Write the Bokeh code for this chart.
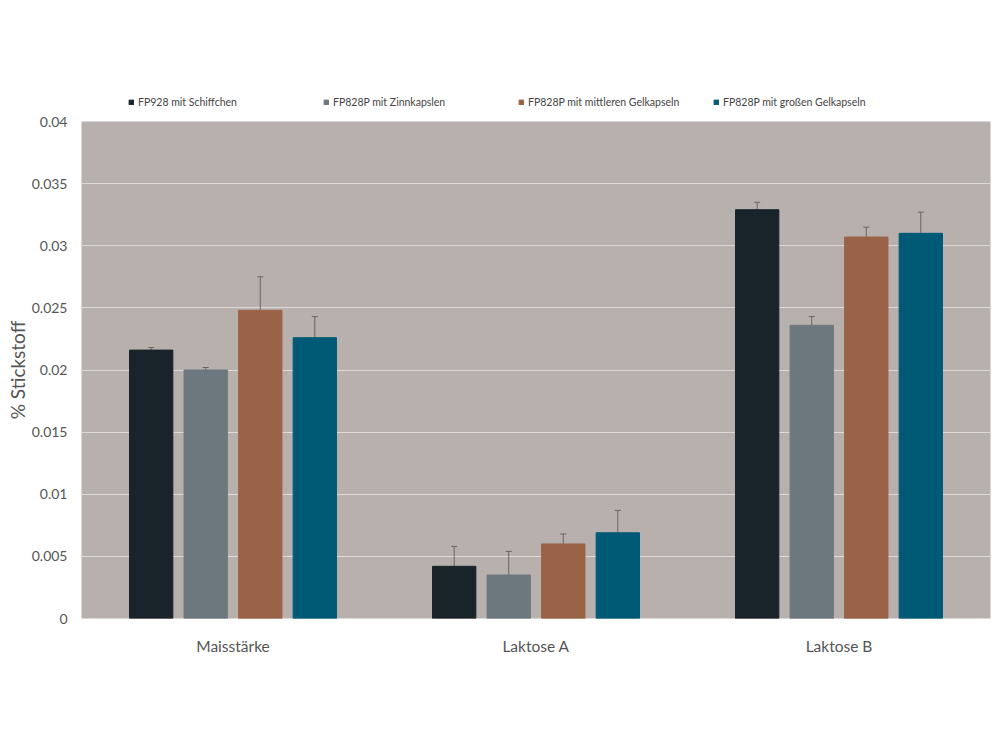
from bokeh.plotting import figure
from bokeh.layouts import column
from bokeh.models import (ColumnDataSource, FactorRange, FixedTicker, CustomJSTickFormatter,
                          Whisker, TeeHead, Legend, LegendItem)
from bokeh.transform import dodge
from bokeh.embed import file_html
from bokeh.resources import INLINE

categories = ["Maisstärke", "Laktose A", "Laktose B"]
series = ["FP928 mit Schiffchen", "FP828P mit Zinnkapslen",
          "FP828P mit mittleren Gelkapseln", "FP828P mit großen Gelkapseln"]
colors = ["#19232a", "#6d787e", "#9a6246", "#005a75"]

fp928_schiff = [0.0216, 0.0042, 0.0329]
fp828_zinn = [0.0200, 0.0035, 0.0236]
fp828_mittel = [0.0248, 0.0060, 0.0307]
fp828_gross = [0.0226, 0.0069, 0.0310]
values = [fp928_schiff, fp828_zinn, fp828_mittel, fp828_gross]

err_schiff = [0.0002, 0.0016, 0.0006]
err_zinn = [0.0002, 0.0019, 0.0007]
err_mittel = [0.0027, 0.0008, 0.0008]
err_gross = [0.0017, 0.0018, 0.0017]
errors = [err_schiff, err_zinn, err_mittel, err_gross]

y_ticks = [0, 0.005, 0.01, 0.015, 0.02, 0.025, 0.03, 0.035, 0.04]

FONT = "Lato"

# ---- legend strip (separate figure so the legend is not clipped) ----
lg = figure(width=1000, height=111, x_range=(0, 1), y_range=(0, 1),
            output_backend="svg", toolbar_location=None, min_border=0)
lg.axis.visible = False
lg.grid.grid_line_color = None
lg.outline_line_color = None
lg.background_fill_color = "white"
lg.border_fill_color = "white"

# ---- main chart ----
p = figure(width=1000, height=639, x_range=FactorRange(*categories, range_padding=0),
           y_range=(0, 0.04), output_backend="svg", toolbar_location=None,
           min_border_left=81, min_border_right=10, min_border_top=10, min_border_bottom=132)
p.background_fill_color = "#b8b0ad"
p.border_fill_color = "white"
p.outline_line_color = None
p.xgrid.grid_line_color = None
p.ygrid.grid_line_color = "#dedad8"
p.ygrid.grid_line_width = 1

offsets = [-0.27, -0.09, 0.09, 0.27]
items = []
for name, vals, errs, col, off in zip(series, values, errors, colors, offsets):
    src = ColumnDataSource(dict(cat=categories, val=vals,
                                lo=[v - e for v, e in zip(vals, errs)],
                                hi=[v + e for v, e in zip(vals, errs)]))
    p.vbar(x=dodge("cat", off, range=p.x_range), top="val", width=0.143, bottom=0,
           source=src, fill_color=col, line_color=col)
    w = Whisker(base=dodge("cat", off, range=p.x_range), upper="hi", lower="lo", source=src,
                line_color="#6a6460", line_width=1,
                upper_head=TeeHead(size=6, line_color="#6a6460", line_width=1),
                lower_head=TeeHead(size=6, line_color="#6a6460", line_width=1))
    p.add_layout(w)
    # legend proxy renderer, placed outside the legend strip's visible range
    proxy = lg.vbar(x=[-5], top=[-5], bottom=[-6], width=0.1, fill_color=col, line_color=col)
    items.append(LegendItem(label=name, renderers=[proxy]))

legend = Legend(items=items, orientation="horizontal", location=(45, 1),
                label_text_font=FONT, label_text_font_size="10.5px", label_text_color="#444",
                glyph_width=6, glyph_height=6, label_width=165, label_height=10, spacing=20,
                label_standoff=4, padding=2, margin=0,
                background_fill_alpha=0, border_line_alpha=0)
lg.add_layout(legend, "center")

p.yaxis.ticker = FixedTicker(ticks=y_ticks)
p.yaxis.formatter = CustomJSTickFormatter(code="return String(+tick.toFixed(4));")
for ax in (p.xaxis, p.yaxis):
    ax.axis_line_color = None
    ax.major_tick_line_color = None
    ax.minor_tick_line_color = None
    ax.major_label_text_font = FONT
    ax.major_label_text_color = "#555"
p.yaxis.major_label_text_font_size = "14px"
p.yaxis.major_label_standoff = 8
p.xaxis.major_label_text_font_size = "15.5px"
p.xaxis.major_label_standoff = 12
p.yaxis.axis_label = "% Stickstoff"
p.yaxis.axis_label_text_font = FONT
p.yaxis.axis_label_text_font_style = "normal"
p.yaxis.axis_label_text_font_size = "19px"
p.yaxis.axis_label_text_color = "#555"
p.yaxis.axis_label_standoff = 0

layout = column(lg, p, spacing=0)
open("out.html", "w").write(file_html(layout, INLINE))
